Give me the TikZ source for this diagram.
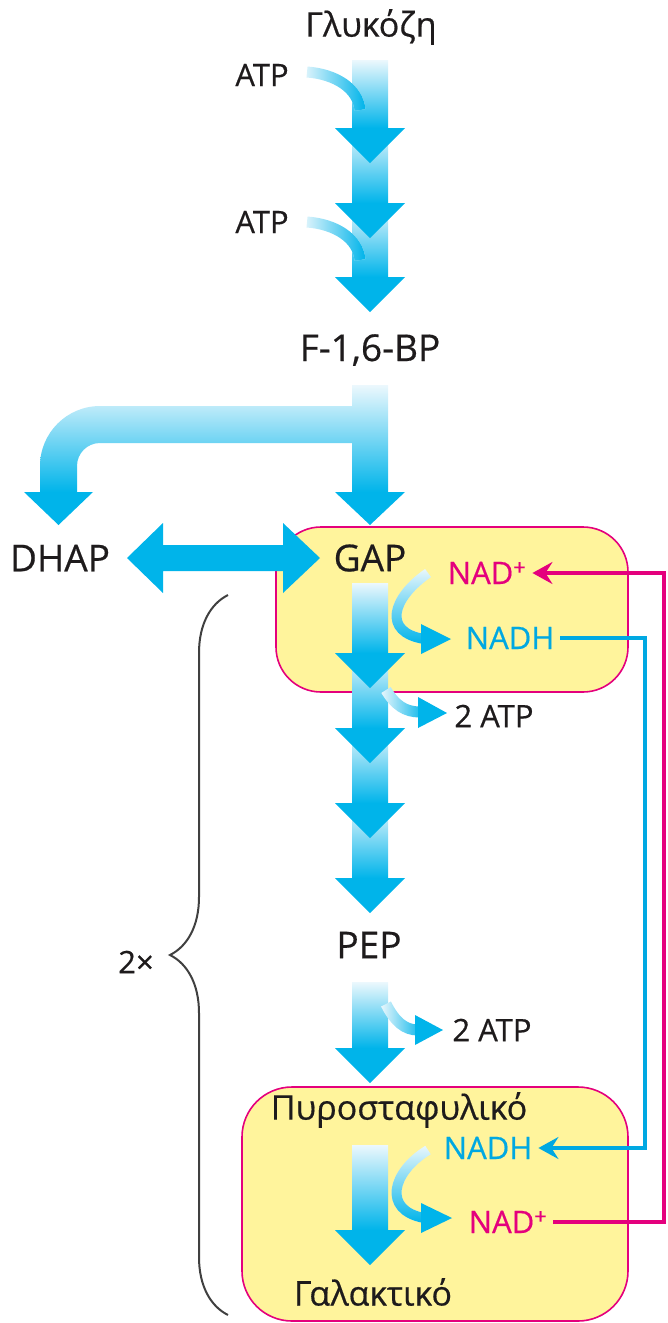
\documentclass[tikz,border=0pt]{standalone}
\usepackage{fontspec}
\setmainfont{Open Sans}[FakeBold=0.5]
\usetikzlibrary{positioning,arrows.meta,fadings,decorations.pathreplacing}
\definecolor{flowcyan}{RGB}{0,180,234}
\definecolor{flowpale}{RGB}{236,248,253}
\definecolor{nadpink}{RGB}{228,0,125}
\definecolor{nadhblue}{RGB}{0,168,226}
\definecolor{boxyellow}{RGB}{255,244,156}
\definecolor{inkdark}{RGB}{30,27,28}
\tikzset{
  bigtxt/.style={font=\fontsize{37}{42}\selectfont, text=inkdark, inner sep=2pt},
  smalltxt/.style={font=\fontsize{31}{36}\selectfont, text=inkdark, inner sep=2pt},
  greektxt/.style={font=\fontsize{34}{38}\selectfont, text=inkdark, inner sep=2pt},
  every node/.style={anchor=center}
}

\begin{document}
\begin{tikzpicture}[x=1pt, y=-1pt,
  cellbox/.style={draw=nadpink, line width=1.6pt, fill=boxyellow},
  shaft/.style={top color=flowpale, bottom color=flowcyan},
  headfill/.style={fill=flowcyan},
  sidebend/.style={line width=11pt, draw=flowpale, postaction={draw=flowcyan, path fading=west}},
  nadbend/.style={line width=10pt, draw=flowpale, postaction={draw=flowcyan, path fading=north}},
  cofactor/.style={font=\fontsize{31}{36}\selectfont, inner sep=6pt, text height=22pt, text depth=0pt},
  returnline/.style={line width=3.6pt, -{Stealth[length=20pt, width=22pt, inset=7pt]}}
]
\useasboundingbox (0,0) rectangle (667,1323);

% yellow compartments
\draw[cellbox, rounded corners=45pt] (276,527) rectangle (628,692);
\draw[cellbox, rounded corners=50pt] (242,1087) rectangle (628,1321);

% split of F-1,6-BP
\shade[shaft] (388,385) -- (388,492) -- (352,492) -- (352,443) -- (100,443)
  .. controls (87.3,443) and (77,453.3) .. (77,466) -- (77,492) -- (40,492) -- (40,466)
  .. controls (40,432.9) and (66.9,406) .. (100,406) -- (352,406) -- (352,385) -- cycle;
\fill[headfill] (24,492) -- (93,492) -- (58.5,525) -- cycle;
\fill[headfill] (335,492) -- (405,492) -- (370,525) -- cycle;

% DHAP <-> GAP
\fill[headfill] (127,558) -- (163,523) -- (163,545) -- (283,545) -- (283,523) -- (320,558)
  -- (283,593) -- (283,571) -- (163,571) -- (163,593) -- cycle;

% main chain
\foreach \ya/\yb in {60/128, 128/203, 203/277, 583/653, 653/728, 728/803, 803/878, 982/1048, 1145/1230}
  \shade[shaft] (352,\ya) rectangle (388,\yb);

% side arrows
\draw[sidebend] (307,72) .. controls (335,74) and (358,88) .. (360,110);
\draw[sidebend] (307,222) .. controls (335,224) and (358,238) .. (360,260);
\draw[sidebend] (386,690) .. controls (395,705) and (405,712) .. (420,712);
\draw[sidebend] (386,1004) .. controls (395,1022) and (405,1030) .. (418,1030);
\draw[nadbend] (428,573) .. controls (392,598) and (382,632) .. (424,639);
\draw[nadbend] (428,1150) .. controls (392,1172) and (382,1210) .. (424,1218);

\foreach \yb in {128, 203, 277, 653, 728, 803, 878, 1048, 1230}
  \fill[headfill] (335,\yb) -- (405,\yb) -- (370,\yb+35) -- cycle;
\fill[headfill] (418,697) -- (447,713) -- (418,728) -- cycle;
\fill[headfill] (415,1015) -- (443,1030) -- (415,1045) -- cycle;
\fill[headfill] (421,624) -- (451,639) -- (421,654) -- cycle;
\fill[headfill] (421,1203) -- (452,1218) -- (421,1233) -- cycle;

% labels
\node[greektxt] (gluc) at (371,27) {Γλυκόζη};
\node[smalltxt] (atpa) at (262,75) {ATP};
\node[smalltxt] (atpb) at (262,222) {ATP};
\node[bigtxt] (fbp) at (370,350) {F-1,6-BP};
\node[bigtxt] (dhap) at (60,558) {DHAP};
\node[bigtxt] (gap) at (370,558) {GAP};
\node[cofactor, text=nadpink] (nadA) at (487,573) {NAD\textsuperscript{+}};
\node[cofactor, text=nadhblue] (nadhA) at (510,638) {NADH};
\node[smalltxt] (atpc) at (494,716) {2 ATP};
\node[bigtxt] (pep) at (369,945) {PEP};
\node[smalltxt] (atpd) at (492,1030) {2 ATP};
\node[greektxt] (pyr) at (399,1110) {Πυροσταφυλικό};
\node[cofactor, text=nadhblue] (nadhB) at (488,1148) {NADH};
\node[cofactor, text=nadpink] (nadB) at (508,1222) {NAD\textsuperscript{+}};
\node[greektxt] (lact) at (373,1292) {Γαλακτικό};
\node[smalltxt] (twice) at (136,962) {2×};

% cofactor recycling
\coordinate (cyanrail) at (645,0);
\coordinate (pinkrail) at (664,0);
\draw[returnline, nadhblue] (nadhA.east) -- (nadhA.east -| cyanrail) |- (nadhB.east);
\draw[returnline, nadpink] (nadB.east) -- (nadB.east -| pinkrail) |- (nadA.east);

% brace
\coordinate (bracelow) at (228,1315);
\coordinate (bracehigh) at (228,595);
\draw[line width=2pt, draw=black!75, decorate, decoration={brace, amplitude=58pt}] (bracelow) -- (bracehigh);

\end{tikzpicture}
\end{document}
